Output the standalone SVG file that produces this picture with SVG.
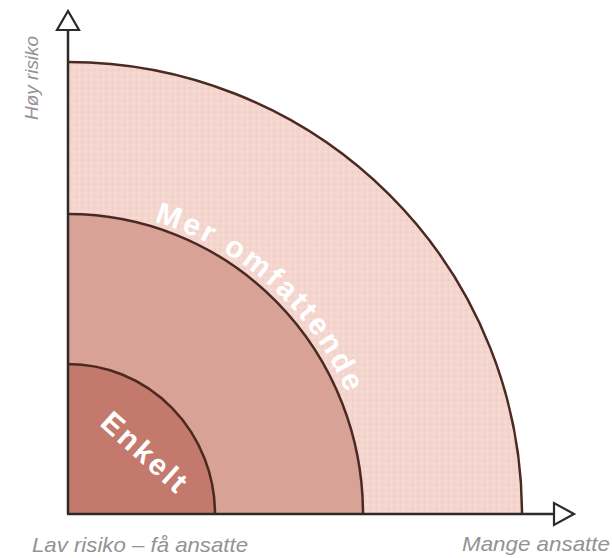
<svg xmlns="http://www.w3.org/2000/svg" width="612" height="558" viewBox="0 0 612 558">
  <defs>
    <style>
      .arc { stroke: #4a2a22; stroke-width: 2.5; fill: none; }
      .axis { stroke: #2e2a28; stroke-width: 2.5; fill: none; }
      .head { stroke: #2e2a28; stroke-width: 2.2; fill: #ffffff; stroke-linejoin: miter; }
      .lbl { font-family: "Liberation Sans", Arial, sans-serif; font-style: italic; fill: #939393; }
      .zone { font-family: "Liberation Sans", Arial, sans-serif; font-weight: bold; fill: #ffffff; }
    </style>
    <pattern id="speck" width="6" height="6" patternUnits="userSpaceOnUse">
      <circle cx="1.5" cy="1.5" r="0.8" fill="#ffffff" opacity="0.35"/>
      <circle cx="4.5" cy="4" r="0.7" fill="#b07060" opacity="0.18"/>
    </pattern>
    <path id="arcText" d="M 154 221.5 A 303 303 0 0 1 371 514"/>
  </defs>
  <rect width="612" height="558" fill="#ffffff"/>

  <g id="outer">
    <path d="M68,514 L68,62 A454,452 0 0 1 522,514 Z" fill="#f4d6cf"/>
    <path d="M68,514 L68,62 A454,452 0 0 1 522,514 Z" fill="url(#speck)"/>
    <path class="arc" d="M68,62 A454,452 0 0 1 522,514"/>
  </g>
  <g id="middle">
    <path d="M68,514 L68,214 A295,300 0 0 1 363,514 Z" fill="#d8a396"/>
    <path class="arc" d="M68,214 A295,300 0 0 1 363,514"/>
  </g>
  <g id="inner">
    <path d="M68,514 L68,364 A147,150 0 0 1 215,514 Z" fill="#c37a6c"/>
    <path class="arc" d="M68,364 A147,150 0 0 1 215,514"/>
  </g>

  <g id="connectors">
    <line class="axis" x1="68" y1="30" x2="68" y2="514"/>
    <line class="axis" x1="67" y1="514" x2="553" y2="514"/>
    <polygon class="head" points="68,11 57,30 79,30"/>
    <polygon class="head" points="574,514 554,503 554,525"/>
  </g>

  <g id="label-mer">
    <text class="zone" font-size="30"><textPath href="#arcText" textLength="266" lengthAdjust="spacing">Mer omfattende</textPath></text>
  </g>
  <g id="label-enkelt">
    <text class="zone" font-size="30" text-anchor="middle" transform="translate(144,452) rotate(42)" y="10" textLength="104" lengthAdjust="spacing">Enkelt</text>
  </g>

  <g id="axis-labels">
    <text class="lbl" font-size="19" text-anchor="middle" transform="translate(38,78) rotate(-90)" textLength="84" lengthAdjust="spacingAndGlyphs">Høy risiko</text>
    <text class="lbl" x="32" y="552" font-size="21" textLength="216" lengthAdjust="spacingAndGlyphs">Lav risiko – få ansatte</text>
    <text class="lbl" x="462" y="551" font-size="21" textLength="148" lengthAdjust="spacingAndGlyphs">Mange ansatte</text>
  </g>
</svg>
